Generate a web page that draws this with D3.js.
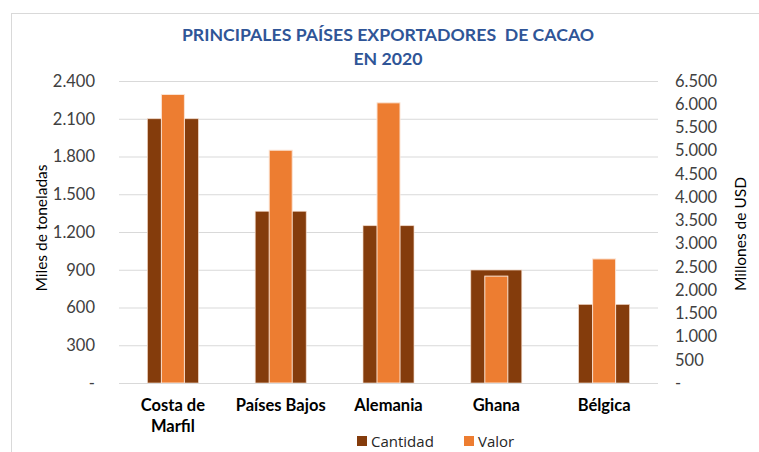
<!DOCTYPE html>
<html><head><meta charset="utf-8">
<script src="https://cdn.jsdelivr.net/npm/d3@7"></script>
<style>body{margin:0;background:#fff}svg{display:block}</style>
</head><body>
<script>
const categories = [["Costa de","Marfil"],["Países Bajos"],["Alemania"],["Ghana"],["Bélgica"]];
const cantidad = [2100, 1365, 1250, 898, 625];
const valor = [6210, 5010, 6030, 2300, 2670];
const leftTicks = [0,300,600,900,1200,1500,1800,2100,2400];
const rightTicks = d3.range(0, 6501, 500);
const seriesNames = ["Cantidad","Valor"];
const colors = ["#843C0C","#ED7D31"];

const W=759,H=452;
const svg=d3.select("body").append("svg").attr("width",W).attr("height",H);
const font="Lato, 'Open Sans', sans-serif";
svg.append("rect").attr("x",11.5).attr("y",13.5).attr("width",W).attr("height",H)
  .attr("fill","#fff").attr("stroke","#d9d9d9");

const plot={l:119,r:658,t:81,b:383};
const x=d3.scaleBand().domain(d3.range(categories.length)).range([plot.l,plot.r]).padding(0);
const yL=d3.scaleLinear().domain([0,2400]).range([plot.b,plot.t]);
const yR=d3.scaleLinear().domain([0,6500]).range([plot.b,plot.t]);
const fmt=v=> v===0?"-":d3.format(",")(v).replace(/,/g,".");

// gridlines
const gl=d3.axisLeft(yL).tickValues(leftTicks).tickSize(-(plot.r-plot.l)).tickFormat("");
const g=svg.append("g").attr("transform",`translate(${plot.l},0)`).call(gl);
g.select(".domain").remove();
g.selectAll("line").attr("stroke","#d9d9d9").attr("stroke-width",1);

// left labels
const la=svg.append("g").attr("transform",`translate(${plot.l},0)`)
  .call(d3.axisLeft(yL).tickValues(leftTicks).tickSize(0).tickPadding(24).tickFormat(fmt));
la.select(".domain").remove();
la.selectAll("text").attr("font-family",font).attr("font-size",16.5).attr("fill","#404040");

const ra=svg.append("g").attr("transform",`translate(${plot.r},0)`)
  .call(d3.axisRight(yR).tickValues(rightTicks).tickSize(0).tickPadding(17).tickFormat(fmt));
ra.select(".domain").remove();
ra.selectAll("text").attr("font-family",font).attr("font-size",16.5).attr("fill","#404040");

// bars
const bw=51, ow=23;
svg.append("g").selectAll("rect").data(cantidad).join("rect")
  .attr("x",(d,i)=>x(i)+x.bandwidth()/2-bw/2).attr("width",bw)
  .attr("y",d=>yL(d)).attr("height",d=>plot.b-yL(d))
  .attr("fill",colors[0]).attr("stroke","#f3d9c8").attr("stroke-width",0.7);
svg.append("g").selectAll("rect").data(valor).join("rect")
  .attr("x",(d,i)=>x(i)+x.bandwidth()/2-ow/2).attr("width",ow)
  .attr("y",d=>yR(d)).attr("height",d=>plot.b-yR(d))
  .attr("fill",colors[1]).attr("stroke","#fbe3d3").attr("stroke-width",1);

// axis baseline
svg.append("line").attr("x1",plot.l).attr("x2",plot.r).attr("y1",plot.b+0.5).attr("y2",plot.b+0.5)
  .attr("stroke","#d9d9d9");

// category labels
categories.forEach((c,i)=>{
  c.forEach((t,j)=>{
    svg.append("text").attr("x",x(i)+x.bandwidth()/2).attr("y",411+j*21)
      .attr("text-anchor","middle").attr("font-family",font).attr("font-weight","bold")
      .attr("font-size",16.5).attr("fill","#000").text(t);
  });
});

// title
const title=["PRINCIPALES PAÍSES EXPORTADORES  DE CACAO","EN 2020"];
title.forEach((t,i)=>svg.append("text").attr("x",388).attr("y",41+i*24).attr("text-anchor","middle")
  .attr("font-family",font).attr("font-weight","bold").attr("font-size",17.7).attr("fill","#2F5597")
  .attr("xml:space","preserve").style("white-space","pre").text(t));

// axis titles
svg.append("text").attr("transform","translate(47,228) rotate(-90)").attr("text-anchor","middle")
  .attr("font-family",font).attr("font-size",15.5).attr("fill","#000").text("Miles de toneladas");
svg.append("text").attr("transform","translate(746,234) rotate(-90)").attr("text-anchor","middle")
  .attr("font-family",font).attr("font-size",15.5).attr("fill","#000").text("Millones de USD");

// legend
const lx=[357,464];
seriesNames.forEach((n,i)=>{
  svg.append("rect").attr("x",lx[i]).attr("y",436).attr("width",10).attr("height",10).attr("fill",colors[i]);
  svg.append("text").attr("x",lx[i]+14).attr("y",446.5).attr("font-family","'Open Sans', sans-serif").attr("font-size",15)
    .attr("fill","#262626").text(n);
});
</script>
</body></html>
